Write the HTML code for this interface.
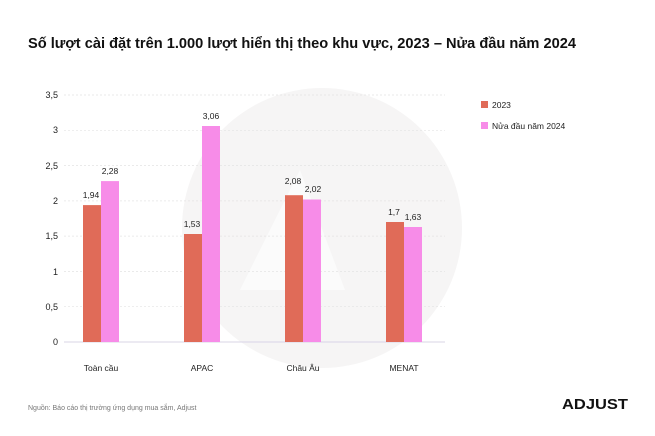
<!DOCTYPE html>
<html><head><meta charset="utf-8"><style>
body{margin:0;background:#fff;}
svg{display:block;font-family:"Liberation Sans",sans-serif;}
</style></head><body>
<svg width="655" height="436" viewBox="0 0 655 436">
<rect width="655" height="436" fill="#fff"/>
<circle cx="322" cy="228" r="140" fill="#f6f5f5"/>
<path d="M300 170 L345 290 L240 290 Z" fill="#fdfdfd" opacity="0.8"/>
<text x="28" y="48" font-size="15" font-weight="bold" fill="#111" textLength="548" lengthAdjust="spacingAndGlyphs">Số lượt cài đặt trên 1.000 lượt hiển thị theo khu vực, 2023 – Nửa đầu năm 2024</text>
<g stroke="#e4e4e4" stroke-dasharray="2,2" stroke-width="0.7">
<line x1="64" x2="445" y1="95" y2="95"/><line x1="64" x2="445" y1="130.3" y2="130.3"/>
<line x1="64" x2="445" y1="165.6" y2="165.6"/><line x1="64" x2="445" y1="200.9" y2="200.9"/>
<line x1="64" x2="445" y1="236.1" y2="236.1"/><line x1="64" x2="445" y1="271.4" y2="271.4"/>
<line x1="64" x2="445" y1="306.7" y2="306.7"/>
</g>
<line x1="64" x2="445" y1="342" y2="342" stroke="#d8d4e6" stroke-width="1"/>
<g font-size="9" fill="#222" text-anchor="end">
<text x="58" y="98">3,5</text><text x="58" y="133">3</text><text x="58" y="169">2,5</text>
<text x="58" y="204">2</text><text x="58" y="239">1,5</text><text x="58" y="275">1</text>
<text x="58" y="310">0,5</text><text x="58" y="345">0</text>
</g>
<g fill="#e06b58">
<rect x="83" y="205.1" width="18" height="136.9"/>
<rect x="184" y="234" width="18" height="108"/>
<rect x="285" y="195.2" width="18" height="146.8"/>
<rect x="386" y="222" width="18" height="120"/>
</g>
<g fill="#f78ce8">
<rect x="101" y="181.1" width="18" height="160.9"/>
<rect x="202" y="126" width="18" height="216"/>
<rect x="303" y="199.5" width="18" height="142.5"/>
<rect x="404" y="227" width="18" height="115"/>
</g>
<g font-size="8.5" fill="#222" text-anchor="middle">
<text x="91" y="198">1,94</text><text x="110" y="174">2,28</text>
<text x="192" y="227">1,53</text><text x="211" y="119">3,06</text>
<text x="293" y="184">2,08</text><text x="313" y="192">2,02</text>
<text x="394" y="215">1,7</text><text x="413" y="220">1,63</text>
<text x="101" y="371">Toàn cầu</text><text x="202" y="371">APAC</text>
<text x="303" y="371">Châu Âu</text><text x="404" y="371">MENAT</text>
</g>
<rect x="481" y="101" width="7" height="7" fill="#e06b58"/>
<rect x="481" y="122" width="7" height="7" fill="#f78ce8"/>
<text x="492" y="108" font-size="8.5" fill="#222">2023</text>
<text x="492" y="129" font-size="8.5" fill="#222">Nửa đầu năm 2024</text>
<text x="28" y="410" font-size="7" fill="#777">Nguồn: Báo cáo thị trường ứng dụng mua sắm, Adjust</text>
<text x="562" y="409" font-size="15" font-weight="bold" fill="#111" textLength="66" lengthAdjust="spacingAndGlyphs">ADJUST</text>
</svg>
</body></html>
